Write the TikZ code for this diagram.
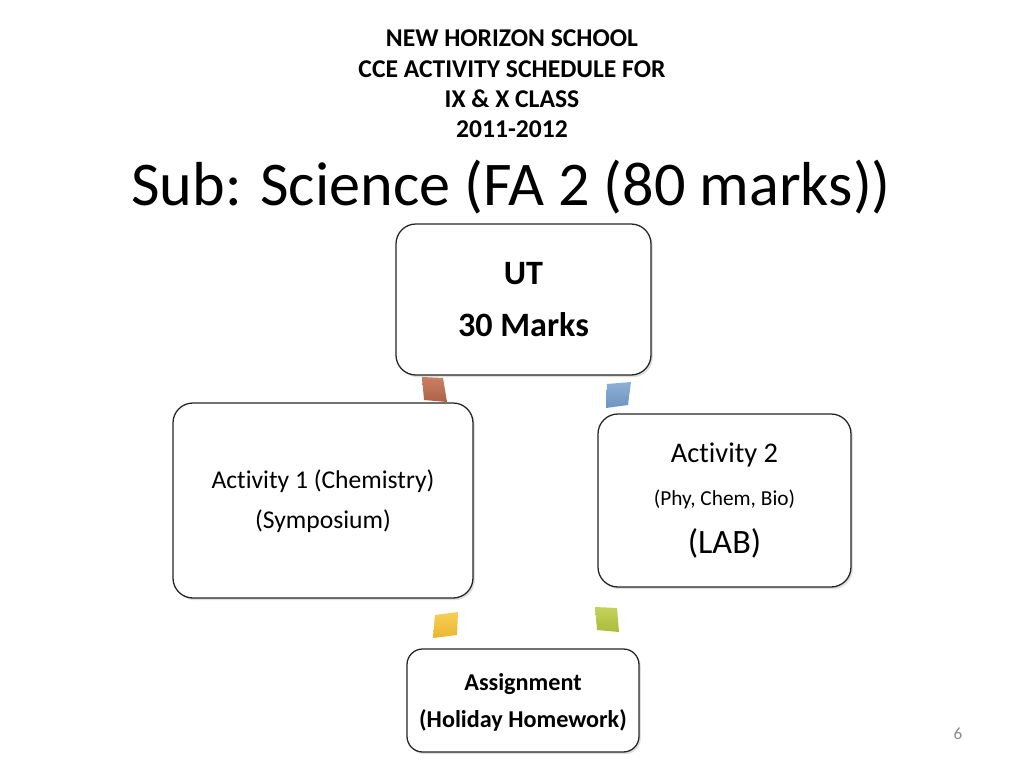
\documentclass[tikz,border=0pt]{standalone}
\usepackage{fontspec}
\setmainfont{Carlito}[Ligatures=NoCommon]
\usetikzlibrary{shadows}
\newlength\px \setlength\px{0.703pt}
\definecolor{sqbrownA}{HTML}{C98064}
\definecolor{sqbrownB}{HTML}{AD6246}
\definecolor{sqblueA}{HTML}{8DB0D6}
\definecolor{sqblueB}{HTML}{6E93BE}
\definecolor{sqyellowA}{HTML}{F6CF55}
\definecolor{sqyellowB}{HTML}{EBB630}
\definecolor{sqgreenA}{HTML}{C3D35A}
\definecolor{sqgreenB}{HTML}{A9BC3C}
\definecolor{pagegray}{HTML}{8B8B8B}
\begin{document}
\begin{tikzpicture}[x=0.703pt,y=-0.703pt,
  box/.style={draw=black!85, line width=0.9pt, rounded corners=14pt, fill=white,
    align=center, inner sep=0pt,
    drop shadow={opacity=0.25, shadow xshift=1.3pt, shadow yshift=-1.5pt}},
  head/.style={inner sep=0pt, anchor=base, font=\fontsize{18}{21}\selectfont\bfseries},
  sq/.style={draw=none}]
\useasboundingbox[fill=white] (0,0) rectangle (1024,768);
% header
\node[head] (h1) at (512,46.7) {NEW HORIZON SCHOOL};
\node[head] (h2) at (512,77) {CCE ACTIVITY SCHEDULE FOR};
\node[head] (h3) at (512,107) {IX \& X CLASS};
\node[head] (h4) at (512,137) {2011-2012};
\node[inner sep=0pt, anchor=base, font=\fontsize{43.7}{50}\selectfont] (title) at (511,205) {Sub: Science (FA 2 (80 marks))};
% cycle squares
\shade[sq, top color=sqbrownA, bottom color=sqbrownB] (422,377) -- (443,378) -- (447,402) -- (424,400) -- cycle;
\shade[sq, top color=sqblueA, bottom color=sqblueB] (607,384) -- (631,382) -- (628,405) -- (606,408) -- cycle;
\shade[sq, top color=sqyellowA, bottom color=sqyellowB] (435,615) -- (458,612) -- (457,635) -- (433,638) -- cycle;
\shade[sq, top color=sqgreenA, bottom color=sqgreenB] (595,607) -- (617,608) -- (619,632) -- (597,630) -- cycle;
% boxes
\node[box, minimum width=255\px, minimum height=151\px, font=\fontsize{24}{36.6}\selectfont\bfseries] (ut) at (523.5,299.5)
  {UT\\30 Marks};
\node[box, minimum width=300\px, minimum height=195\px, font=\fontsize{18}{28}\selectfont] (act1) at (323,500.5)
  {\rule{0pt}{14.5pt}Activity 1 (Chemistry)\\(Symposium)};
\node[box, minimum width=253\px, minimum height=173\px, font=\fontsize{20}{30}\selectfont] (act2) at (724.5,500.5)
  {Activity 2\\\fontsize{15}{30.6}\selectfont (Phy, Chem, Bio)\\[3.5pt]\fontsize{24}{36}\selectfont (LAB)};
\node[box, rounded corners=11pt, minimum width=232\px, minimum height=103\px, font=\fontsize{17}{26}\selectfont\bfseries] (asg) at (523,700.5)
  {\rule{0pt}{15pt}Assignment\\(Holiday Homework)};
% page number
\node[inner sep=0pt, anchor=base, text=pagegray, font=\fontsize{12}{14}\selectfont] (pg) at (958,739) {6};
\end{tikzpicture}
\end{document}
